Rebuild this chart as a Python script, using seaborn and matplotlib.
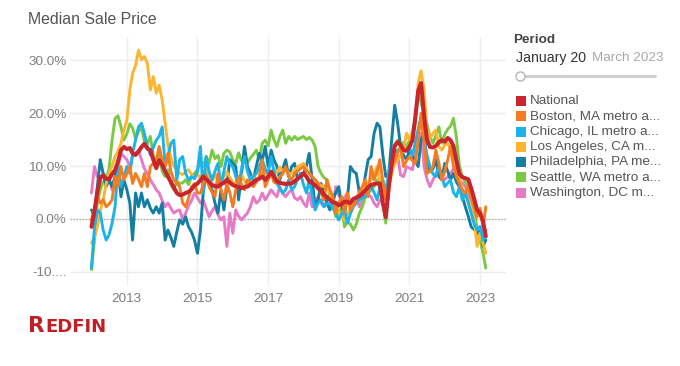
import numpy as np
import pandas as pd
import matplotlib
matplotlib.use("Agg")
import matplotlib.pyplot as plt
from matplotlib.patches import Rectangle
from matplotlib.lines import Line2D
import seaborn as sns

# monthly YoY change in median sale price, Jan 2012 - Mar 2023
months = pd.date_range("2012-01-01", "2023-03-01", freq="MS")

regions = ["National", "Boston", "Chicago", "Los Angeles", "Philadelphia", "Seattle", "Washington"]
legend_labels = ["National", "Boston, MA metro a...", "Chicago, IL metro a...", "Los Angeles, CA m...",
                 "Philadelphia, PA me...", "Seattle, WA metro a...", "Washington, DC m..."]
colors = ["#c9252c", "#f47b20", "#1cb3e8", "#fdb52f", "#137ea2", "#7ac943", "#e67ac7"]

national = [
    -1.5, 1.5, 5.0, 7.8, 8.2, 7.6, 7.5, 8.5, 9.2, 10.8, 13.0, 13.6,
    13.2, 13.4, 12.4, 12.1, 12.7, 13.6, 14.2, 13.3, 13.0, 11.2, 9.6, 11.1,
    10.2, 9.0, 8.0, 7.0, 6.0, 4.9, 4.5, 4.6, 4.9, 5.1, 5.6, 6.3,
    6.7, 7.3, 8.0, 7.5, 7.0, 6.4, 6.2, 6.1, 6.6, 6.8, 7.4, 6.9,
    6.4, 6.2, 6.0, 5.8, 6.0, 6.1, 6.5, 6.9, 7.4, 7.6, 8.0, 7.4,
    8.0, 8.9, 8.0, 7.1, 6.8, 6.7, 6.6, 6.7, 6.7, 7.1, 7.6, 8.0,
    8.6, 8.0, 7.1, 6.8, 6.4, 5.8, 5.3, 4.6, 4.1, 3.6, 3.2, 3.0,
    2.6, 2.8, 3.3, 3.2, 3.0, 3.8, 4.0, 4.3, 4.8, 5.4, 6.0, 6.4,
    6.6, 6.7, 6.7, 3.0, 0.3, 6.0, 10.5, 13.8, 14.5, 14.0, 13.0, 12.9,
    13.6, 14.9, 19.0, 24.2, 25.7, 19.5, 15.0, 13.6, 13.5, 13.8, 14.5, 14.9,
    14.6, 15.3, 14.9, 13.8, 11.0, 8.5, 7.9, 7.7, 7.5, 5.8, 3.8, 1.7,
    1.1, -0.5, -3.3,
]
boston = [
    -0.2, 2.0, 4.2, 3.0, 3.6, 2.3, 2.8, 3.6, 8.0, 6.1, 9.9, 7.4,
    8.6, 9.9, 6.7, 8.6, 7.5, 6.1, 8.6, 6.1, 9.9, 10.5, 11.2, 13.7,
    11.0, 9.9, 12.4, 9.0, 7.4, 6.8, 6.1, 3.0, 2.3, 4.0, 6.1, 6.7,
    4.9, 4.9, 6.5, 8.0, 6.1, 5.0, 4.2, 8.6, 5.5, 3.6, 6.7, 5.0,
    2.3, 5.5, 8.0, 6.5, 5.5, 7.4, 6.8, 6.1, 7.0, 8.0, 11.2, 6.1,
    7.5, 8.6, 7.0, 6.7, 8.0, 8.5, 9.9, 8.0, 7.4, 8.6, 9.0, 9.5,
    9.9, 9.0, 8.6, 8.0, 7.4, 6.7, 5.0, 3.6, 7.4, 5.5, 4.2, 1.1,
    3.0, 4.2, 1.1, 4.9, 1.7, 2.5, 3.6, 5.0, 6.1, 7.4, 4.2, 9.9,
    7.4, 9.0, 11.2, 7.0, 3.6, 6.5, 9.9, 11.0, 12.5, 13.7, 9.9, 11.0,
    11.8, 11.0, 10.5, 15.0, 20.0, 14.9, 8.6, 9.0, 9.9, 13.0, 10.5, 7.4,
    9.0, 11.2, 13.7, 9.9, 8.0, 6.7, 5.5, 4.9, 6.1, 4.0, 2.3, 0.4,
    2.0, -1.5, 2.3,
]
chicago = [
    -9.3, -1.5, 1.7, 1.1, -2.1, -4.0, -3.0, -0.8, 2.3, 9.9, 6.1, 8.0,
    9.9, 8.6, 12.4, 14.9, 17.4, 18.1, 16.2, 13.7, 12.1, 13.5, 14.9, 15.6,
    17.4, 9.9, 11.8, 14.3, 14.9, 7.4, 11.2, 11.8, 8.6, 7.4, 8.0, 7.6,
    9.0, 13.7, 4.9, 11.8, 9.0, 7.4, 9.0, 10.5, 6.1, 9.0, 11.8, 10.5,
    9.9, 8.0, 6.1, 9.5, 11.8, 9.0, 7.4, 8.0, 8.6, 10.0, 11.2, 9.5,
    8.6, 11.8, 9.0, 6.7, 5.8, 4.9, 5.5, 7.4, 5.5, 6.1, 7.5, 8.6,
    6.5, 4.9, 7.4, 4.5, 1.7, 3.0, 3.6, 2.3, 2.8, 3.0, 2.0, 1.1,
    -0.2, 1.0, 1.7, -0.8, 1.0, 2.3, 3.0, 3.6, 4.0, 4.2, 5.0, 6.1,
    5.0, 3.6, 6.0, 7.4, 5.0, 9.0, 11.0, 12.5, 13.0, 13.3, 13.0, 12.8,
    13.5, 12.0, 14.3, 17.0, 19.3, 15.0, 12.0, 9.9, 8.5, 8.0, 9.9, 8.0,
    6.1, 6.8, 7.4, 5.0, 4.2, 6.1, 3.6, 4.9, 3.0, 1.1, -1.0, -2.1,
    -1.5, -4.0, -2.7,
]
los_angeles = [
    -4.6, -3.4, -1.5, 1.5, 3.6, 6.7, 8.6, 10.0, 11.8, 12.8, 14.3, 16.8,
    18.7, 24.4, 27.5, 29.0, 31.9, 30.1, 30.7, 29.4, 24.4, 26.9, 23.8, 25.3,
    22.5, 18.1, 14.0, 11.5, 10.0, 9.3, 8.6, 8.4, 8.9, 9.3, 8.4, 7.8,
    8.5, 7.6, 8.8, 9.4, 8.0, 7.2, 8.3, 7.5, 6.8, 8.0, 8.9, 7.9,
    7.0, 6.5, 7.8, 8.4, 7.2, 6.6, 7.4, 8.2, 7.0, 7.8, 8.6, 9.0,
    8.2, 8.8, 9.5, 8.7, 9.8, 9.0, 9.6, 8.6, 8.6, 9.3, 9.8, 10.2,
    10.5, 9.5, 8.6, 8.0, 7.4, 6.8, 6.3, 6.1, 6.7, 4.9, 3.4, 2.3,
    1.1, 0.5, -0.2, 1.1, 2.0, 3.0, 3.6, 4.2, 5.0, 6.1, 6.8, 7.4,
    8.5, 9.9, 7.4, 5.0, 3.6, 6.1, 8.5, 10.5, 11.2, 12.0, 13.0, 16.2,
    15.0, 16.5, 17.8, 25.7, 28.0, 24.4, 17.0, 15.2, 16.2, 16.8, 13.7, 13.0,
    14.0, 14.3, 13.0, 12.4, 10.5, 7.5, 5.5, 4.5, 3.6, 2.0, -0.2, -5.2,
    -2.7, -4.6, -6.5,
]
philadelphia = [
    1.7, 0.4, 6.0, 11.2, 8.6, 6.1, 7.4, 6.1, 8.0, 9.9, 4.2, 7.4,
    5.5, 3.0, -4.0, 4.9, 2.3, 4.9, 2.3, 3.6, 2.0, 1.1, 2.3, 1.1,
    3.0, -4.0, -2.1, -3.5, -5.2, -2.5, -0.2, -1.0, 0.4, -1.5, -2.5, -4.0,
    -6.5, -2.0, 4.9, 8.6, 7.0, 5.5, 3.0, 1.1, 5.5, 1.7, 6.1, 11.2,
    10.5, 9.9, 3.6, 8.6, 13.7, 9.9, 8.6, 7.4, 10.0, 12.4, 11.0, 13.7,
    9.9, 13.0, 11.2, 10.0, 7.4, 9.5, 11.2, 8.0, 9.9, 10.5, 7.4, 8.6,
    8.6, 10.0, 12.4, 7.4, 2.3, 3.6, 6.7, 4.9, 3.0, 1.7, 3.5, 5.0,
    6.1, 2.3, 1.1, 4.0, 9.9, 9.0, 8.6, 5.0, 4.2, 8.0, 11.2, 11.8,
    16.2, 18.1, 17.4, 12.0, 8.0, 8.6, 14.9, 21.5, 18.0, 13.7, 12.0, 11.2,
    13.0, 12.0, 11.0, 9.9, 15.0, 16.0, 11.0, 9.0, 9.5, 11.2, 8.0, 7.4,
    10.5, 9.0, 7.4, 8.6, 7.0, 6.1, 4.2, 2.3, 0.5, -1.5, -2.0, -2.7,
    -1.5, -5.2, -4.0,
]
seattle = [
    -9.6, -4.0, 3.0, 5.5, 7.0, 7.6, 9.5, 14.9, 19.0, 19.5, 17.4, 14.9,
    16.1, 18.0, 17.2, 15.2, 16.5, 17.4, 14.6, 14.3, 15.6, 12.0, 10.5, 12.4,
    9.0, 8.0, 9.3, 6.5, 5.5, 7.1, 6.7, 6.8, 7.4, 6.5, 8.0, 8.6,
    9.3, 11.0, 9.9, 11.8, 10.5, 13.0, 11.4, 12.0, 9.9, 12.4, 13.0, 12.7,
    11.2, 10.5, 12.5, 11.0, 12.0, 10.6, 11.5, 12.2, 13.0, 11.2, 14.3, 14.9,
    13.8, 16.8, 15.0, 13.7, 15.6, 16.8, 14.3, 15.6, 14.9, 15.6, 15.0, 15.3,
    15.6, 15.0, 15.4, 14.9, 13.7, 9.9, 8.6, 7.8, 7.4, 4.2, 3.0, 0.4,
    1.0, 2.3, -1.5, -0.5, -1.0, -2.1, -1.0, 1.0, 2.3, 4.0, 4.9, 5.5,
    6.1, 7.4, 5.5, 3.0, -0.8, 5.5, 11.8, 14.0, 14.9, 13.7, 14.5, 13.7,
    14.8, 16.2, 19.0, 23.5, 22.0, 19.6, 18.0, 15.5, 14.3, 15.8, 17.4, 14.3,
    16.0, 17.0, 17.5, 19.0, 15.5, 10.0, 8.0, 7.0, 6.1, 4.0, 1.5, -2.0,
    -4.0, -6.5, -9.3,
]
washington = [
    4.9, 9.9, 8.0, 7.4, 8.6, 8.0, 8.0, 5.5, 7.4, 9.9, 12.4, 11.8,
    11.2, 9.9, 11.8, 12.4, 13.0, 11.2, 9.5, 8.6, 7.4, 6.5, 5.5, 4.9,
    3.5, 2.3, 3.0, 2.0, 1.1, 1.5, 1.7, -0.2, 1.1, 2.5, 3.5, 4.9,
    4.0, 3.0, 3.6, 2.0, 0.4, 1.5, 2.3, 0.8, -0.2, 0.4, -5.2, 1.1,
    -2.7, 1.7, 0.5, -0.2, 0.5, 1.1, 2.3, 4.2, 3.0, 3.5, 4.9, 3.6,
    4.5, 5.5, 4.8, 4.2, 6.1, 4.8, 4.2, 5.0, 5.5, 4.0, 3.6, 4.2,
    3.0, 2.3, 4.9, 2.3, 3.5, 4.2, 3.0, 2.3, 3.5, 4.9, 2.3, 6.1,
    4.5, 3.6, 4.0, 4.9, 3.0, 3.5, 4.2, 2.3, 3.5, 4.9, 4.5, 4.2,
    3.0, 2.3, 3.5, 4.2, 6.1, 7.0, 8.6, 11.8, 12.0, 8.3, 8.0, 9.9,
    9.6, 9.3, 12.4, 14.0, 16.2, 9.9, 7.5, 6.1, 7.4, 8.5, 9.9, 8.0,
    7.4, 8.0, 8.6, 9.5, 9.9, 7.4, 6.8, 6.1, 4.5, 3.0, 0.4, -1.5,
    -2.7, -2.1, -2.1,
]

series = dict(zip(regions, [national, boston, chicago, los_angeles, philadelphia, seattle, washington]))
df = pd.DataFrame({"month": months, **series}).melt(id_vars="month", var_name="region", value_name="change")

ytick_vals = [-10, 0, 10, 20, 30]
ytick_labels = ["-10....", "0.0%", "10.0%", "20.0%", "30.0%"]
xtick_years = [2013, 2015, 2017, 2019, 2021, 2023]

sns.set_style("white")
plt.rcParams["font.family"] = ["Liberation Sans", "DejaVu Sans"]

W, H = 680, 366
fig = plt.figure(figsize=(W / 100, H / 100), dpi=100)
ax = fig.add_axes([70 / W, 1 - 285 / H, 436 / W, 248 / H])

# national drawn last so it sits on top
draw_order = regions[::-1]
palette = dict(zip(regions, colors))
widths = {r: (2.9 if r == "National" else 2.1) for r in regions}
sns.lineplot(data=df, x="month", y="change", hue="region", hue_order=draw_order,
             size="region", size_order=draw_order, sizes=widths, palette=palette,
             estimator=None, legend=False, ax=ax,
             solid_joinstyle="round", solid_capstyle="round")

ax.set_xlim(pd.Timestamp("2011-05-24"), pd.Timestamp("2023-09-26"))
ax.set_ylim(-12.5, 34.4)
ax.set_yticks(ytick_vals, ytick_labels)
ax.set_xticks([pd.Timestamp(f"{y}-01-01") for y in xtick_years], [str(y) for y in xtick_years])
ax.set_xticks([pd.Timestamp(f"{y}-01-01") for y in range(2012, 2024, 2)], minor=True)
ax.set(xlabel="", ylabel="")
ax.set_axisbelow(True)
ax.grid(True, which="major", color="#ededed", lw=1)
ax.axhline(0, color="#a9a9a9", lw=1, ls=(0, (1, 1.2)), zorder=1.5)
for s in ax.spines.values():
    s.set_visible(False)
ax.tick_params(axis="y", length=0, pad=2.5, labelsize=9.7, labelcolor="#7f7f7f")
ax.tick_params(axis="x", which="major", length=0, pad=5.5, labelsize=9.7, labelcolor="#7f7f7f")
ax.tick_params(axis="x", which="minor", length=3, width=1, color="#d9d9d9")

# title and filter box
fig.text(28 / W, 1 - 20 / H, "Median Sale Price", fontsize=11.4, color="#555555", va="center")
fig.text(513 / W, 1 - 40 / H, "Period", fontsize=9.7, fontweight="bold", color="#444444", va="center")
fig.text(516 / W, 1 - 58 / H, "January 20", fontsize=10.2, color="#333333", va="center")
fig.text(592 / W, 1 - 58 / H, "March 2023", fontsize=9.7, color="#a8a8a8", va="center")
fig.add_artist(Line2D([518 / W, 655 / W], [1 - 76 / H] * 2, color="#cfcfcf", lw=2.2))
fig.add_artist(Line2D([520 / W], [1 - 76 / H], marker="o", ms=6.5, mfc="white", mec="#b5b5b5", mew=1))

# legend
for i, (lab, col) in enumerate(zip(legend_labels, colors)):
    yc = 101 + i * 15.3
    fig.add_artist(Rectangle((516 / W, 1 - (yc + 5) / H), 10 / W, 10 / H, color=col, lw=0))
    fig.text(530 / W, 1 - yc / H, lab, fontsize=9.7, color="#555555", va="center")

# logo
fig.text(28 / W, 1 - 332 / H, "R", fontsize=15.5, fontweight="bold", color="#c41e24",
         family="DejaVu Sans", va="baseline")
fig.text(45.5 / W, 1 - 332 / H, "EDFIN", fontsize=13, fontweight="bold", color="#c41e24",
         family="DejaVu Sans", va="baseline")

fig.savefig("out.png", dpi=100)
